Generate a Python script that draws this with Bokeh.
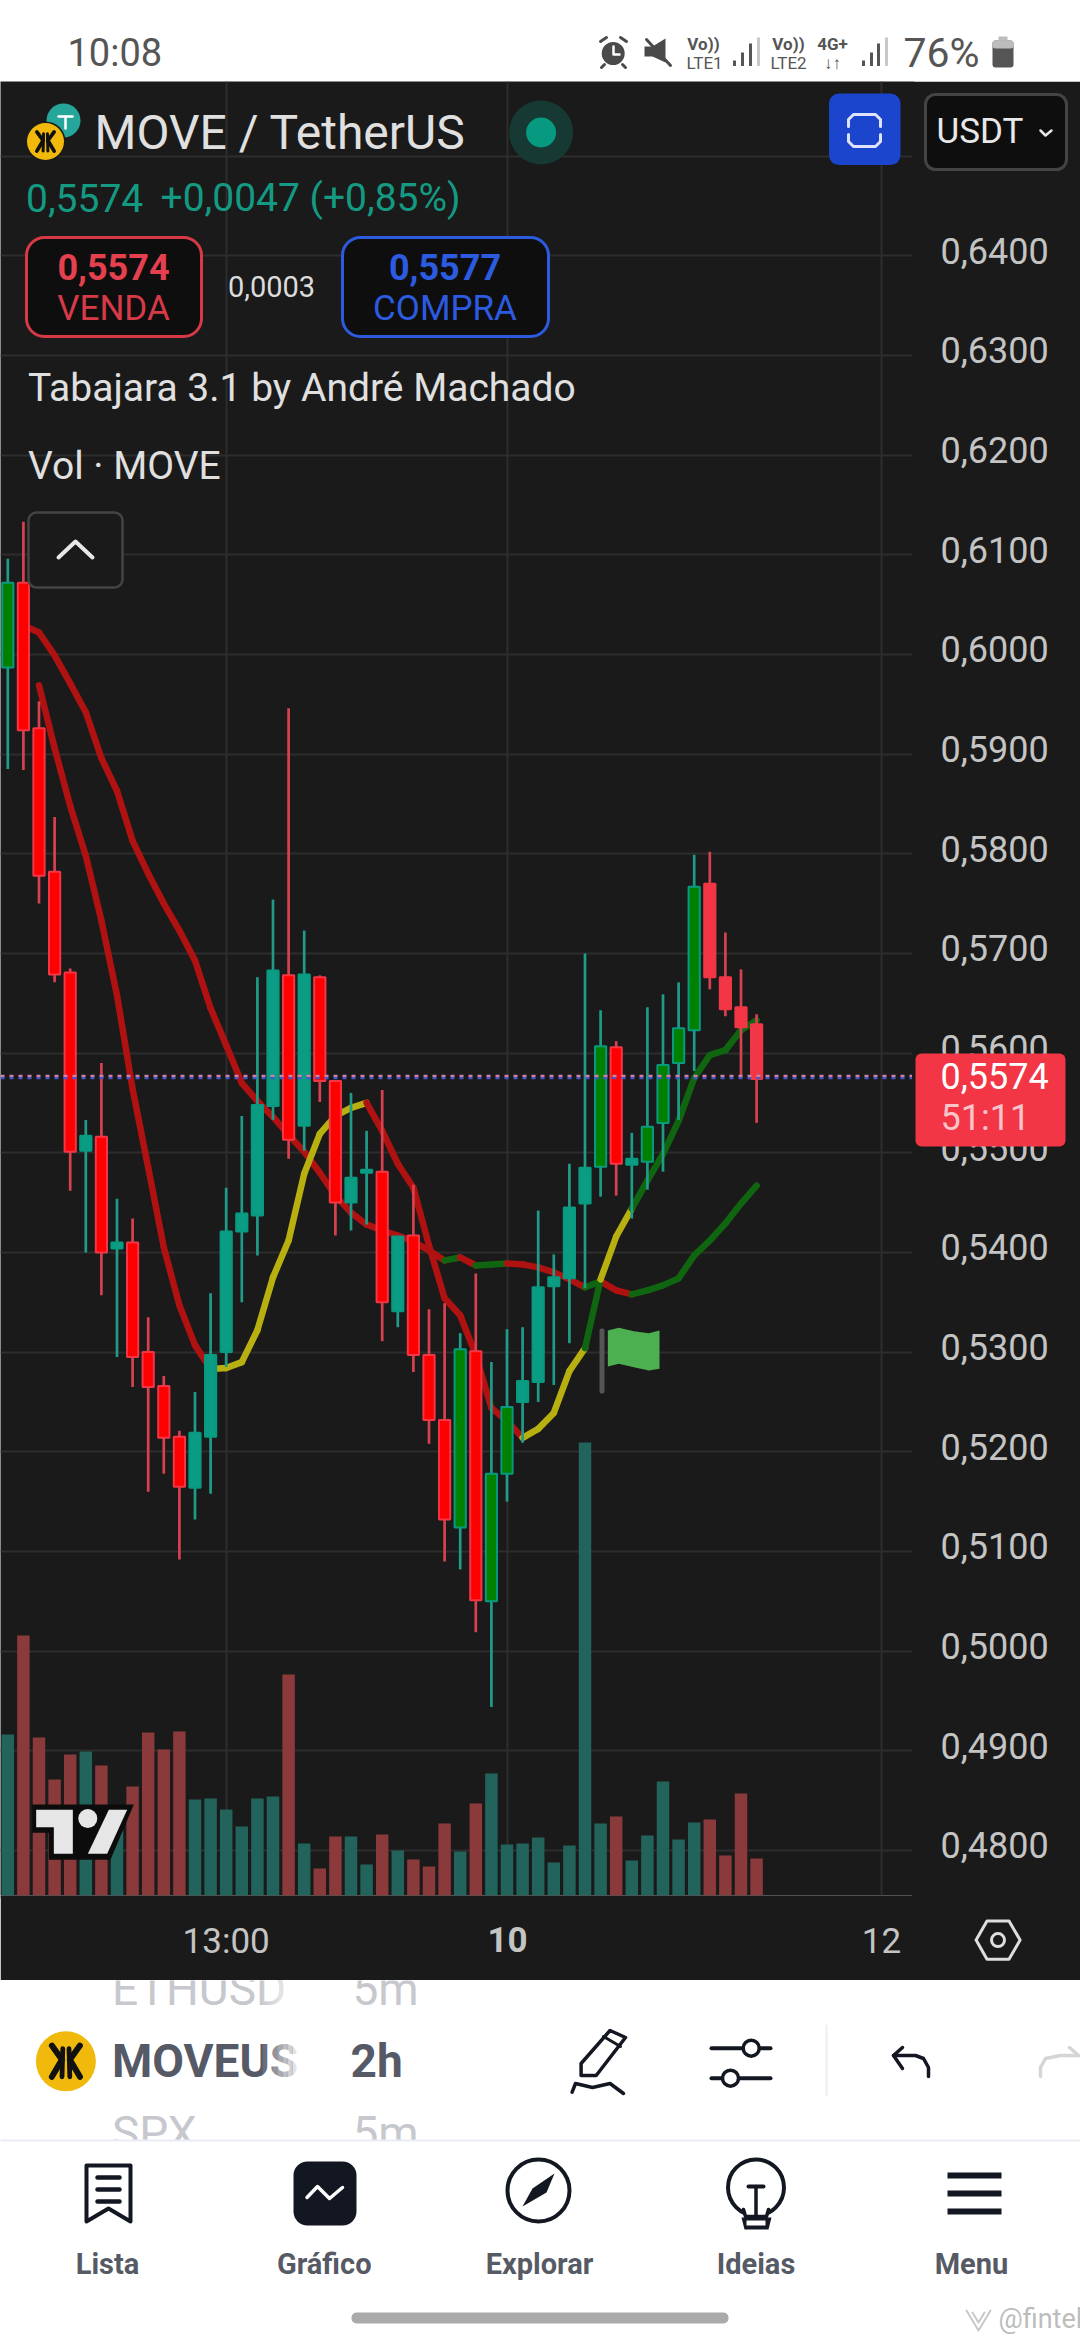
from bokeh.plotting import figure
from bokeh.embed import file_html
from bokeh.resources import INLINE
from bokeh.core.properties import value
from bokeh.models import Range1d, FixedTicker, LinearAxis, Span

# ---------- data ----------
opens = [.5987,.6072,.5926,.5782,.5681,.5502,.5516,.5404,.5410,.5300,.5266,.5215,.5164,.5215,.5300,.5421,.5437,.5547,
         .5678,.5527,.5676,.5572,.5450,.5480,.5481,.5341,.5417,.5297,.5232,.5124,.5301,.5050,.5178,.5250,.5270,.5366,
         .5374,.5449,.5486,.5606,.5488,.5491,.5530,.5590,.5623,.5770,.5676,.5646,.5629]
closes = [.6072,.5924,.5778,.5679,.5501,.5517,.5400,.5410,.5295,.5265,.5214,.5165,.5219,.5297,.5421,.5439,.5548,.5683,
          .5513,.5679,.5572,.5450,.5475,.5483,.5350,.5416,.5297,.5232,.5132,.5303,.5051,.5178,.5245,.5271,.5365,.5375,
          .5445,.5485,.5607,.5489,.5494,.5526,.5588,.5625,.5767,.5676,.5644,.5626,.5574]
highs = [.6096,.6133,.5953,.5837,.5685,.5533,.5590,.5454,.5434,.5335,.5276,.5221,.5260,.5359,.5465,.5537,.5676,.5754,
         .5946,.5723,.5678,.5572,.5560,.5522,.5563,.5416,.5468,.5343,.5349,.5319,.5379,.5290,.5323,.5325,.5442,.5398,
         .5489,.5700,.5643,.5612,.5520,.5646,.5659,.5671,.5799,.5802,.5721,.5684,.5639]
lows = [.5885,.5884,.5750,.5671,.5462,.5400,.5357,.5295,.5265,.5160,.5178,.5092,.5132,.5158,.5285,.5350,.5397,.5533,
        .5494,.5502,.5551,.5417,.5422,.5428,.5311,.5325,.5280,.5208,.5090,.5082,.5019,.4944,.5150,.5209,.5250,.5267,
        .5309,.5364,.5456,.5457,.5434,.5463,.5481,.5533,.5582,.5664,.5637,.5576,.5530]
volumes = [161,260,158,116,141,144,130,65,109,163,146,164,96,97,86,69,97,99,221,52,27,59,59,31,61,45,36,29,72,44,92,
           122,51,52,58,33,50,453,72,79,35,60,114,56,73,76,40,102,37]
green_body = [0,29,31,32,38,41,42,43,44]
plain_red_body = [45,46,47,48]
slow_ma = [.6029,.6022,.5999,.5971,.5942,.5896,.5863,.5813,.5780,.5750,.5723,.5693,.5645,.5608,.5570,.5552,.5536,.5518,
           .5501,.5480,.5457,.5440,.5428,.5422,.5417,.5411,.5402,.5392,.5395,.5387,.5388,.5389,.5388,.5385,.5380,.5373,
           .5365,.5371,.5362,.5358,.5362,.5367,.5374,.5397,.5412,.5429,.5449,.5467]
fast_ma = [.5969,.5906,.5848,.5798,.5733,.5658,.5564,.5485,.5405,.5347,.5307,.5283,.5284,.5290,.5322,.5375,.5412,.5479,
           .5519,.5537,.5545,.5550,.5522,.5489,.5465,.5407,.5354,.5337,.5297,.5244,.5231,.5214,.5223,.5239,.5281,.5304,
           .5373,.5416,.5444,.5472,.5499,.5532,.5575,.5598,.5603,.5623,.5633]
slow_runs = [("r",28),("g",29),("r",30),("g",32),("r",37),("g",38),("r",40),("g",48)]
fast_runs = [("r",13),("y",23),("r",33),("y",37),("g",38),("y",40),("g",48)]
price_ticks = [.48,.49,.50,.51,.52,.53,.54,.55,.56,.57,.58,.59,.60,.61,.62,.63,.64]
price_labels = ["0,4800","0,4900","0,5000","0,5100","0,5200","0,5300","0,5400","0,5500","0,5600","0,5700","0,5800",
                "0,5900","0,6000","0,6100","0,6200","0,6300","0,6400"]
time_ticks = [14,32,56]
time_labels = ["13:00","10","12"]
last_level = 0.5576

# ---------- colours ----------
BG="#1a1a1a"; GRID="#2d2d2d"; TXT="#e0e0e0"; AX="#c4c4c4"
TEAL="#089981"; RED="#f23645"; INK="#131722"
MA={"r":"#b01212","g":"#106610","y":"#b8b010"}

def bare(y0,y1,h):
    f=figure(width=1080,height=h,x_range=Range1d(0,1080),y_range=Range1d(y0,y1),x_axis_type=None,y_axis_type=None,
             toolbar_location=None,output_backend="svg",min_border=0,background_fill_color="white",
             border_fill_color="white",outline_line_color=None)
    f.grid.visible=False
    return f

def stroke(f,pts,color,w,**kw):
    f.line([q[0] for q in pts],[q[1] for q in pts],line_color=color,line_width=w,line_cap="round",line_join="round",**kw)
def fill(f,pts,color,**kw):
    f.patch([q[0] for q in pts],[q[1] for q in pts],fill_color=color,line_color=None,**kw)
def txt(f,x,y,s,size,color,align="left",style="normal",**kw):
    f.text([x],[y],text=[s],text_font=value("Roboto"),text_font_size=f"{size}px",text_color=color,text_align=align,
           text_baseline="middle",text_font_style=style,**kw)

# ---------- status bar ----------
st=bare(81,0,81)
GR="#555555"
txt(st,67,52,"10:08",38,GR)
st.circle([612.7],[53],radius=11.5,fill_color="#4a4a4a",line_color=None)
stroke(st,[(613,46),(613,54),(619,54)],"white",2.5)
stroke(st,[(600,41),(606,37)],"#4a4a4a",3); stroke(st,[(626,41),(620,37)],"#4a4a4a",3)
stroke(st,[(604,64),(601,67)],"#4a4a4a",3); stroke(st,[(622,64),(625,67)],"#4a4a4a",3)
fill(st,[(644,46),(652,46),(665,38),(665,62),(652,56),(644,56)],"#4a4a4a")
stroke(st,[(646,39),(670,65)],"#4a4a4a",3)
for x,s in [(703,"Vo))"),(788,"Vo))")]:
    txt(st,x,43,s,17,GR,"center","bold")
txt(st,704,62,"LTE1",17,GR,"center"); txt(st,788,62,"LTE2",17,GR,"center")
txt(st,832,43,"4G+",17,GR,"center","bold"); txt(st,832,62,"↓↑",17,GR,"center","bold")
for xs in [(734,742,750,758),(863,871,878,886)]:
    st.quad(left=[x-1.5 for x in xs],right=[x+1.5 for x in xs],top=[60,52,43,37],bottom=[65.5]*4,
            fill_color=[GR,GR,GR,"#c9c9c9"],line_color=None)
txt(st,903,52,"76%",41,GR)
st.quad(left=[992],right=[1013],top=[40],bottom=[67],fill_color=GR,line_color=None,border_radius=3)
st.quad(left=[992],right=[1013],top=[40],bottom=[48],fill_color="#bdbdbd",line_color=None,border_radius=3)
st.quad(left=[998],right=[1007],top=[36],bottom=[40],fill_color="#bdbdbd",line_color=None)

# ---------- chart ----------
PX=9967.0
Y0=0.66561
xs=list(range(len(opens)))
p=figure(width=1080,height=1899,x_range=Range1d(-7.3/15.6,(912-7.3)/15.6),
         y_range=Range1d(Y0-1895/PX,Y0-81/PX),y_axis_location=None,toolbar_location=None,output_backend="svg",
         min_border_top=0,min_border_left=0,min_border_right=168,min_border_bottom=85,
         background_fill_color=BG,border_fill_color=BG,outline_line_color=None)
p.extra_x_ranges={"rx":Range1d(0,912)}
d=5/PX
p.extra_y_ranges={"ry":Range1d(1895,81),"vol":Range1d(0,1814),"ay":Range1d(Y0-1895/PX-d,Y0-81/PX-d)}

ay=LinearAxis(y_range_name="ay",ticker=FixedTicker(ticks=price_ticks),
              major_label_overrides=dict(zip(price_ticks,price_labels)))
ay.axis_line_color=None; ay.major_tick_line_color=None; ay.minor_tick_line_color=None
ay.major_label_standoff=22; ay.major_label_text_font="Roboto"; ay.major_label_text_font_size="36px"
ay.major_label_text_color=AX
p.add_layout(ay,"right")

ax=p.xaxis[0]
ax.ticker=FixedTicker(ticks=[time_ticks[0],time_ticks[2]])
ax.major_label_overrides={time_ticks[0]:time_labels[0],time_ticks[2]:time_labels[2]}
ax.axis_line_color=None; ax.major_tick_line_color=None; ax.minor_tick_line_color=None
ax.major_label_standoff=19; ax.major_label_text_font="Roboto"; ax.major_label_text_font_size="35px"
ax.major_label_text_color=AX

p.ygrid.ticker=FixedTicker(ticks=price_ticks+[.65]); p.xgrid.ticker=FixedTicker(ticks=time_ticks)
for g in (p.xgrid,p.ygrid):
    g.grid_line_color=GRID; g.grid_line_width=2

up=[c>=o for o,c in zip(opens,closes)]
p.vbar(x=xs,top=volumes,bottom=0,width=0.8,y_range_name="vol",line_color=None,
       fill_color=["#22635c" if u else "#8a3a3a" for u in up])

def ma_draw(vals,first,runs):
    cols=[]
    i=first
    for name,end in runs:
        while i<end:
            cols.append(MA[name]); i+=1
    x=[first+k for k in range(len(vals))]
    p.segment(x[:-1],vals[:-1],x[1:],vals[1:],line_color=cols,line_width=6.5,line_cap="round")
ma_draw(slow_ma,1,slow_runs)
ma_draw(fast_ma,2,fast_runs)

wick=["#1f9c87" if u else "#d8414f" for u in up]
p.segment(xs,lows,xs,highs,line_color=wick,line_width=2.7)
body=[]
for i,u in enumerate(up):
    if i in green_body: body.append("#008000")
    elif u: body.append("#0b9d84")
    elif i in plain_red_body: body.append(RED)
    else: body.append("#ff0000")
edge=[TEAL if u else RED for u in up]
p.vbar(x=xs,top=[max(a,b) for a,b in zip(opens,closes)],bottom=[min(a,b) for a,b in zip(opens,closes)],width=0.72,
       fill_color=body,line_color=edge,line_width=2)

# last price: dotted, pink over blue
p.add_layout(Span(location=last_level+0.00011,dimension="width",line_color="#d080a8",line_width=2.2,line_dash="4 5"))
p.add_layout(Span(location=last_level-0.00011,dimension="width",line_color="#4a55c8",line_width=2.2,line_dash="4 5"))

R=dict(x_range_name="rx",y_range_name="ry",level="overlay")

# flag
fill(p,[(x/3+400,1300+y/3) for x,y in [(622,90),(655,82),(700,92),(745,98),(777,90),(777,205),(745,210),(700,200),(655,190),(622,198)]],"#4caf50",**R)
p.quad(left=[599],right=[604],top=[1328],bottom=[1393],fill_color="#555555",line_color=None,border_radius=2,**R)

# TradingView mark
fill(p,[(x/3,1600+y/3) for x,y in [(95,612),(400,612),(330,778),(145,778),(145,697),(95,697)]],"#0c0c0c",**R)
fill(p,[(x/3,1600+y/3) for x,y in [(107,628),(217,628),(217,760),(160,760),(160,680),(107,680)]],"#e6e6e6",**R)
fill(p,[(x/3,1600+y/3) for x,y in [(325,628),(380,628),(320,760),(262,760)]],"#e6e6e6",**R)
p.circle([87.3],[1818],radius=9.5,fill_color="#e6e6e6",line_color=None,**R)

# header
def coin(f,cx,cy,r,**kw):
    f.circle([cx],[cy],radius=r,fill_color="#f0b90b",line_color=None,**kw)
    s=r*0.52
    for sx in (-1,1):
        stroke(f,[(cx+sx*s*.9,cy-s),(cx+sx*s*.25,cy-s*.1),(cx+sx*s*.9,cy+s)],"#111111",r*0.2,**kw)
        stroke(f,[(cx+sx*s*.2,cy-s*.8),(cx+sx*s*.25,cy+s)],"#111111",r*0.16,**kw)
p.circle([63],[120],radius=17,fill_color="#26a69a",line_color=None,**R)
stroke(p,[(58,116),(72,116)],"white",2.5,**R); stroke(p,[(65,116),(65,128)],"white",2.5,**R)
p.circle([45],[141],radius=20,fill_color=BG,line_color=None,**R)
coin(p,45,141,18.5,**R)
txt(p,94,132,"MOVE / TetherUS",48,TXT,**R)
p.circle([540.6],[132],radius=32,fill_color="#163a33",line_color=None,**R)
p.circle([540.6],[132],radius=15,fill_color=TEAL,line_color=None,**R)
p.quad(left=[828.5],right=[900],top=[93],bottom=[164.6],fill_color="#1a45cc",line_color=None,border_radius=10,**R)
stroke(p,[(848,126),(848,119),(853,114),(875,114),(880,119),(880,126)],"#dfe3ff",3,**R)
stroke(p,[(848,134),(848,141),(853,146),(875,146),(880,141),(880,134)],"#dfe3ff",3,**R)
txt(p,25.5,197,"0,5574",39,"#149a82",**R)
txt(p,160,197,"+0,0047 (+0,85%)",39,"#149a82",**R)
p.quad(left=[26],right=[201],top=[237],bottom=[336],fill_color="#0e0e0e",line_color="#d63a47",line_width=3,border_radius=18,**R)
p.quad(left=[342],right=[548],top=[237],bottom=[336],fill_color="#0e0e0e",line_color="#2c5be0",line_width=3,border_radius=18,**R)
txt(p,113,266,"0,5574",36,"#e5404e","center","bold",**R)
txt(p,113,308,"VENDA",35,"#d63a47","center",**R)
txt(p,271,286,"0,0003",29,"#dcdcdc","center",**R)
txt(p,444.5,266,"0,5577",36,"#2c5be0","center","bold",**R)
txt(p,444.5,308,"COMPRA",35,"#2c5be0","center",**R)
txt(p,27.5,387,"Tabajara 3.1 by André Machado",39,TXT,**R)
txt(p,27.5,465,"Vol · MOVE",39,TXT,**R)
p.quad(left=[28],right=[122],top=[512],bottom=[587],fill_color=BG,line_color="#444444",line_width=2.5,border_radius=8,**R)
stroke(p,[(58,557),(75,541),(92,557)],"#e8e8e8",4,**R)

# ---------- overlay for the items that sit outside the plot frame (same pixel grid as the reference) ----------
ov=bare(1980,81,1899)
ov.background_fill_color=None; ov.border_fill_color=None
ov.quad(left=[911.5,0],right=[914,915],top=[81,1895.5],bottom=[1896,1898],fill_color=BG,line_color=None)
ov.quad(left=[925],right=[1066],top=[94],bottom=[169],fill_color="#0e0e0e",line_color="#444444",line_width=3,border_radius=10)
txt(ov,936,131,"USDT",35,"#e8e8e8")
stroke(ov,[(1040,130),(1045,135),(1051,130)],"#e8e8e8",2.5)
ov.quad(left=[915],right=[1065],top=[1053],bottom=[1146],fill_color=RED,line_color=None,border_radius=6)
txt(ov,940,1075,"0,5574",36,"#ffffff")
txt(ov,940,1117,"51:11",36,"#fbc4cb")
txt(ov,507,1939,time_labels[1],35,AX,"center","bold")
stroke(ov,[(975.6,1939.6),(986.5,1920.5),(1008.5,1920.5),(1019.6,1939.6),(1008.5,1958.7),(986.5,1958.7),(975.6,1939.6)],"#dedede",3)
ov.circle([997.5],[1939.6],radius=6.5,fill_color=None,line_color="#dedede",line_width=3)

# ---------- bottom bars ----------
n=bare(2340,1980,360)
LG="#c6c8cd"; MID="#555a66"
txt(n,111.5,1988,"ETHUSD",46,LG); txt(n,352,1988,"5m",46,LG)
txt(n,111.5,2060,"MOVEUS",46,MID,style="bold"); txt(n,350,2060,"2h",46,MID,style="bold")
txt(n,111.5,2132,"SPX",46,LG); txt(n,352,2132,"5m",46,LG)
for k in range(8):
    n.quad(left=[262+k*5],right=[267+k*5],top=[1980],bottom=[2140],fill_color="white",fill_alpha=.12*(k+1),line_color=None)
n.quad(left=[298],right=[345],top=[1980],bottom=[2140],fill_color="white",line_color=None)
n.quad(left=[0],right=[1080],top=[2140],bottom=[2340],fill_color="white",line_color=None)
stroke(n,[(0,2140),(1080,2140)],"#e9edf3",2)
coin(n,65.4,2060.7,30)
# pencil
stroke(n,[(580.6,2075),(580.6,2063),(609.5,2030),(625,2037),(595.7,2075),(580.6,2075)],INK,3.5)
stroke(n,[(603,2036),(620,2046)],INK,3)
stroke(n,[(571.6,2091.7),(575,2083),(592,2087),(609.5,2083),(623,2093)],INK,3.5)
# sliders
stroke(n,[(711,2047.7),(770,2047.7)],INK,4); stroke(n,[(711,2077.7),(770,2077.7)],INK,4)
n.circle([750.7,730],[2047.7,2077.7],radius=8,fill_color="white",line_color=INK,line_width=3.5)
stroke(n,[(826,2025),(826,2095)],"#eeeeee",2)
# undo, redo
stroke(n,[(902,2047),(893,2055),(902,2068)],INK,3.5)
stroke(n,[(893,2055),(915,2055),(923,2058),(928,2067),(928,2076)],INK,3.5)
stroke(n,[(1040,2076),(1040,2067),(1045,2058),(1060,2055),(1078,2055)],"#d5d5d5",3.5)
stroke(n,[(1069,2047),(1078,2055)],"#d5d5d5",3.5)
# Lista
stroke(n,[(86,2165),(130,2165),(130,2221),(108,2208),(86,2221),(86,2165)],INK,4)
for y in (2177,2189,2201):
    stroke(n,[(97,y),(119,y)],INK,4.5)
# Gráfico
n.quad(left=[293],right=[356],top=[2161],bottom=[2225],fill_color=INK,line_color=None,border_radius=14)
stroke(n,[(306.5,2197),(317,2186),(329,2198),(342,2187)],"white",3.5)
# Explorar
n.circle([538],[2190],radius=31,fill_color=None,line_color=INK,line_width=4)
fill(n,[(522,2206),(532,2188),(554,2173),(546,2192)],INK)
# Ideias
n.circle([755.5],[2187],radius=28,fill_color=None,line_color=INK,line_width=4)
n.quad(left=[745],right=[766],top=[2206],bottom=[2218],fill_color="white",line_color=None)
stroke(n,[(743,2209),(745,2216),(766,2216),(768,2209)],INK,3.5)
fill(n,[(741,2217),(771,2217),(768,2229),(744,2229)],INK)
n.quad(left=[746],right=[765],top=[2220],bottom=[2225],fill_color="white",line_color=None)
stroke(n,[(748,2186),(763,2186)],INK,4); stroke(n,[(755.5,2186),(755.5,2214)],INK,3.5)
# Menu
n.quad(left=[947]*3,right=[1001]*3,top=[2172,2190,2208],bottom=[2178,2196,2214],fill_color=INK,line_color=None)
for x,s in [(107,"Lista"),(323.7,"Gráfico"),(539,"Explorar"),(755.5,"Ideias"),(971,"Menu")]:
    txt(n,x,2263,s,29,"#565a65","center","bold")
n.quad(left=[351],right=[728],top=[2312],bottom=[2323],fill_color="#aaaaaa",line_color=None,border_radius=5)
txt(n,998,2318,"@fintel",27,"#bdbdbd")
stroke(n,[(966,2310),(978,2330),(990,2310)],"#c8c8c8",2); stroke(n,[(972,2312),(978,2322),(984,2312)],"#c8c8c8",2)

for fig,top in [(st,0),(p,81),(n,1980),(ov,81)]:
    fig.styles={"position":"absolute","left":"0px","top":f"{top}px"}
open("out.html","w").write(file_html([st,p,n,ov],INLINE))
